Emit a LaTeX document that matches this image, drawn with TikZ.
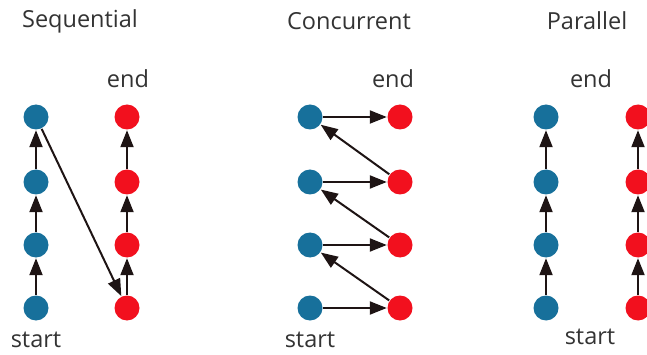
\documentclass[tikz,border=0pt]{standalone}
\usepackage{fontspec}
\setmainfont{Open Sans}
\usetikzlibrary{arrows.meta}
\definecolor{dotblue}{HTML}{17709B}
\definecolor{dotred}{HTML}{F2101E}
\definecolor{inkgray}{HTML}{333333}
\definecolor{arrowink}{HTML}{1E1414}
\tikzset{
  bluedot/.style={circle,fill=dotblue,minimum size=25pt,inner sep=0pt},
  reddot/.style={circle,fill=dotred,minimum size=25pt,inner sep=0pt},
  label text/.style={text=inkgray,font=\fontsize{23.5}{26}\selectfont,inner sep=0pt},
  flow/.style={draw=arrowink,line width=2pt,-{Triangle[length=17pt,width=13pt]},shorten >=0.5pt,shorten <=0.5pt}
}
\begin{document}
\begin{tikzpicture}[x=1pt,y=-1pt]
\useasboundingbox (0,0) rectangle (647,355);
\clip (0,0) rectangle (647,355);

% ---- Sequential ----
\node[label text] (seqt) at (80,21) {Sequential};
\node[label text] (seqe) at (128,79) {end};
\node[label text] (seqs) at (36,340) {start};
\foreach \i/\y in {1/117,2/182,3/245,4/308}{
  \node[bluedot] (sb\i) at (36,\y) {};
  \node[reddot] (sr\i) at (127,\y) {};
}
\draw[flow] (sb4) -- (sb3);
\draw[flow] (sb3) -- (sb2);
\draw[flow] (sb2) -- (sb1);
\draw[flow] (sb1) -- (sr4);
\draw[flow] (sr4) -- (sr3);
\draw[flow] (sr3) -- (sr2);
\draw[flow] (sr2) -- (sr1);

% ---- Concurrent ----
\node[label text] (cont) at (349,21) {Concurrent};
\node[label text] (cone) at (393,79) {end};
\node[label text] (cons) at (310,340) {start};
\foreach \i/\y in {1/117,2/182,3/245,4/308}{
  \node[bluedot] (cb\i) at (310,\y) {};
  \node[reddot] (cr\i) at (400,\y) {};
}
\foreach \i in {1,2,3,4}{
  \draw[flow] (cb\i) -- (cr\i);
}
\draw[flow] (cr4) -- (cb3);
\draw[flow] (cr3) -- (cb2);
\draw[flow] (cr2) -- (cb1);

% ---- Parallel ----
\node[label text] (part) at (587,21) {Parallel};
\node[label text] (pare) at (591,79) {end};
\node[label text] (pars) at (590,337) {start};
\foreach \i/\y in {1/117,2/182,3/245,4/308}{
  \node[bluedot] (pb\i) at (546,\y) {};
  \node[reddot] (pr\i) at (638,\y) {};
}
\draw[flow] (pb4) -- (pb3);
\draw[flow] (pb3) -- (pb2);
\draw[flow] (pb2) -- (pb1);
\draw[flow] (pr4) -- (pr3);
\draw[flow] (pr3) -- (pr2);
\draw[flow] (pr2) -- (pr1);
\end{tikzpicture}
\end{document}
